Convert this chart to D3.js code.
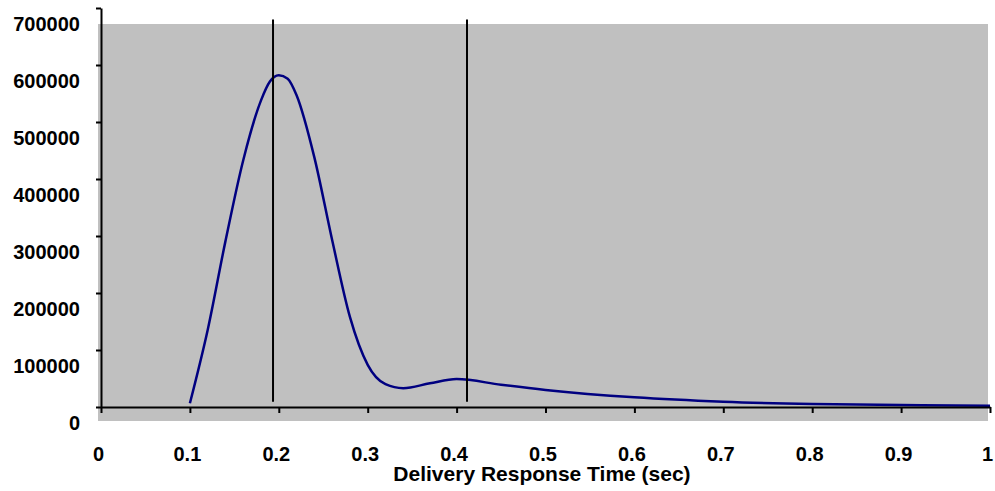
<!DOCTYPE html>
<html>
<head>
<meta charset="utf-8">
<script src="https://cdn.jsdelivr.net/npm/d3@7"></script>
<style>
  body { margin: 0; background: #fff; }
  text { font-family: "Liberation Sans", Arial, sans-serif; font-weight: bold; }
</style>
</head>
<body>
<div id="chart"></div>
<script>
// delivery response time (sec) vs count
var times  = [0.10, 0.12, 0.14, 0.16, 0.18, 0.19, 0.20, 0.21, 0.22, 0.24, 0.26, 0.28, 0.30, 0.32, 0.34, 0.37, 0.40, 0.45, 0.50, 0.60, 0.70, 0.80, 0.90, 1.00];
var counts = [6500, 135000, 291000, 433000, 538000, 571000, 582000, 576000, 547000, 438000, 293000, 158000, 74000, 40000, 33000, 41600, 49000, 39000, 30000, 17000, 9300, 5300, 3500, 2300];

// the two vertical markers
var markers = [0.1935, 0.4117];
var markerRange = [9000, 680000];

var xTicks = [0, 0.1, 0.2, 0.3, 0.4, 0.5, 0.6, 0.7, 0.8, 0.9, 1];
var xTickLabels = ["0", "0.1", "0.2", "0.3", "0.4", "0.5", "0.6", "0.7", "0.8", "0.9", "1"];
var yTicks = [0, 100000, 200000, 300000, 400000, 500000, 600000, 700000];
var yTickLabels = ["0", "100000", "200000", "300000", "400000", "500000", "600000", "700000"];

var width = 995, height = 491;

var svg = d3.select("#chart")
            .append("svg")
            .attr("width", width)
            .attr("height", height);

var x = d3.scaleLinear()
          .domain([0, 1])
          .range([101, 990]);

var y = d3.scaleLinear()
          .domain([0, 700000])
          .range([407, 8]);

// grey plot area (sits a little off the axes, like the original)
svg.append("rect")
   .attr("x", 98)
   .attr("y", 24)
   .attr("width", 890)
   .attr("height", 397)
   .attr("fill", "#c0c0c0");

var line = d3.line()
             .x(function(d, i) { return x(times[i]); })
             .y(function(d, i) { return y(counts[i]); })
             .curve(d3.curveMonotoneX);

svg.append("path")
   .datum(counts)
   .attr("d", line)
   .attr("fill", "none")
   .attr("stroke", "#000080")
   .attr("stroke-width", 2.5);

svg.selectAll("line.marker")
   .data(markers)
   .enter()
   .append("line")
       .attr("class", "marker")
       .attr("x1", function(d) { return x(d); })
       .attr("x2", function(d) { return x(d); })
       .attr("y1", y(markerRange[0]))
       .attr("y2", y(markerRange[1]))
       .attr("stroke", "#000")
       .attr("stroke-width", 2);

// axes
var xAxis = svg.append("g")
   .attr("transform", "translate(0," + y(0) + ")")
   .call(d3.axisBottom(x)
           .tickValues(xTicks)
           .tickFormat(function(d, i) { return xTickLabels[i]; })
           .tickSizeInner(6)
           .tickSizeOuter(0));

var yAxis = svg.append("g")
   .attr("transform", "translate(" + x(0) + ",0)")
   .call(d3.axisLeft(y)
           .tickValues(yTicks)
           .tickFormat(function(d, i) { return yTickLabels[i]; })
           .tickSizeInner(5)
           .tickSizeOuter(0));

[xAxis, yAxis].forEach(function(g) {
    g.attr("font-size", 20).attr("font-family", null);
    g.selectAll("path, line").attr("stroke", "#000").attr("stroke-width", 2);
    g.selectAll("text").attr("fill", "#000").attr("dy", 0);
});

xAxis.selectAll("text").attr("y", 54).attr("x", -3);
yAxis.selectAll("text").attr("y", 22).attr("x", -21);

svg.append("text")
   .attr("x", 542)
   .attr("y", 481)
   .attr("text-anchor", "middle")
   .attr("font-size", 21)
   .text("Delivery Response Time (sec)");
</script>
</body>
</html>
